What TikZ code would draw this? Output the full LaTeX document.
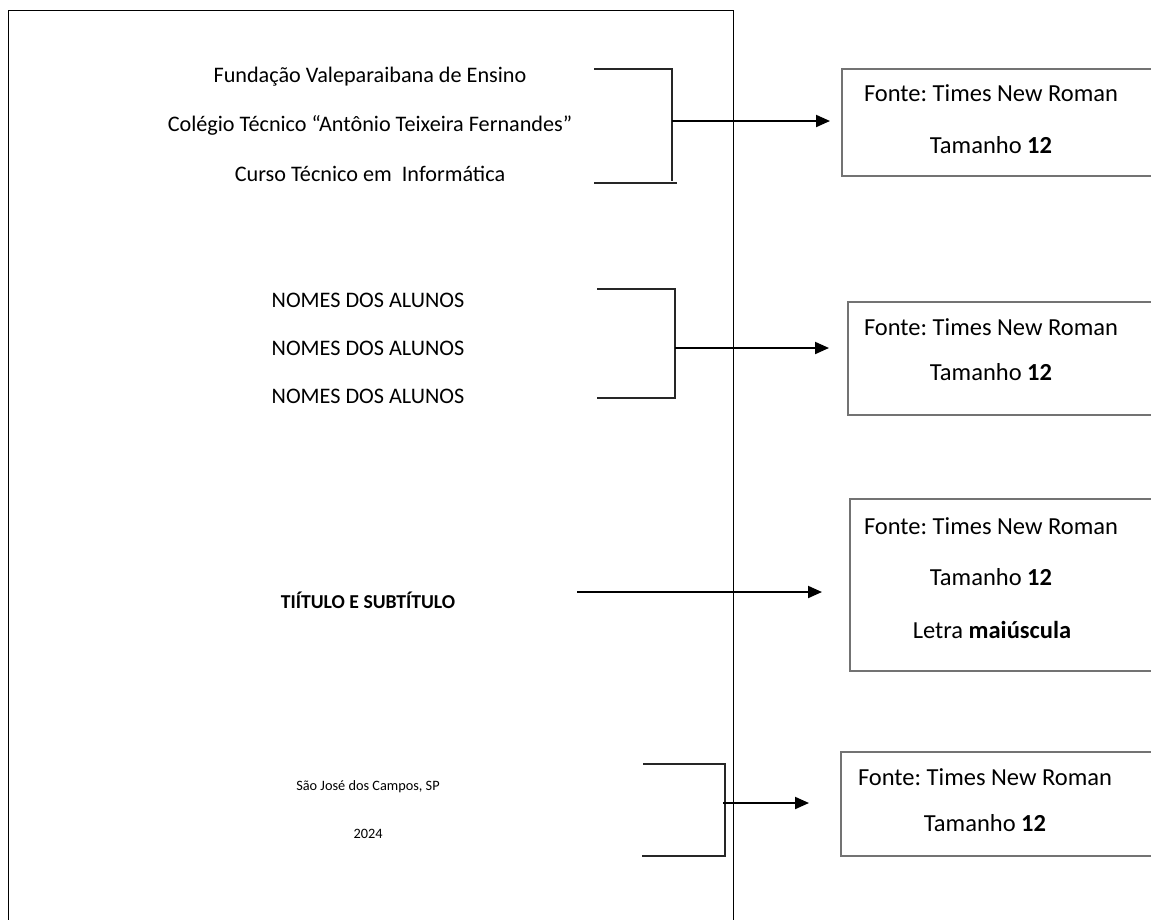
\documentclass[tikz,border=0pt]{standalone}
\usepackage{fontspec}
\setmainfont{Carlito}
\usetikzlibrary{arrows.meta}
\frenchspacing
\begin{document}
\begin{tikzpicture}[x=1pt,y=-1pt,
  pg/.style={line width=1pt,black},
  brk/.style={line width=2pt,black!85},
  conn/.style={line width=2pt,-{Triangle[length=14pt,width=12pt]}},
  bx/.style={line width=1.2pt,black!55},
  mtxt/.style={font=\fontsize{22.2}{26}\selectfont,inner sep=0pt},
  stxt/.style={font=\fontsize{14.3}{17}\selectfont,inner sep=0pt},
  btxt/.style={font=\fontsize{24.5}{29}\selectfont,inner sep=0pt}]
\useasboundingbox (0,0) rectangle (1151,919);
% page
\draw[pg] (8,925) -- (8,10) -- (733,10) -- (733,925);
% left texts
\node[mtxt] (t1) at (370,77) {Fundação Valeparaibana de Ensino};
\node[mtxt] (t2) at (370,125) {Colégio Técnico “Antônio Teixeira Fernandes”};
\node[mtxt] (t3) at (370,174) {Curso Técnico em \ Informática};
\node[mtxt] (n1) at (368,300) {NOMES DOS ALUNOS};
\node[mtxt] (n2) at (368,348) {NOMES DOS ALUNOS};
\node[mtxt] (n3) at (368,396) {NOMES DOS ALUNOS};
\node[inner sep=0pt,font=\fontsize{19.7}{24}\selectfont\bfseries] (ti) at (368,600) {TIÍTULO E SUBTÍTULO};
\node[stxt] (c1) at (368,787) {São José dos Campos, SP};
\node[stxt] (c2) at (368,834) {2024};
% brackets
\coordinate (b1a) at (594,69); \coordinate (b1b) at (672,69);
\coordinate (b1c) at (672,181); \coordinate (b1d) at (594,183); \coordinate (b1e) at (677,183);
\draw[brk] (b1a) -- (b1b) -- (b1c);
\draw[brk] (b1d) -- (b1e);
\coordinate (b1m) at (672,121);
\coordinate (b2a) at (597,289); \coordinate (b2b) at (675,289);
\coordinate (b2c) at (675,398); \coordinate (b2d) at (597,398);
\draw[brk] (b2a) -- (b2b) -- (b2c) -- (b2d);
\coordinate (b2m) at (675,348);
\coordinate (b3m) at (577,592);
\coordinate (b4a) at (643,764); \coordinate (b4b) at (725,764);
\coordinate (b4c) at (725,856); \coordinate (b4d) at (642,856);
\draw[brk] (b4a) -- (b4b) -- (b4c) -- (b4d);
\coordinate (b4m) at (723,803);
% boxes
\node[anchor=north west,minimum width=320pt,minimum height=107pt] (f1) at (842,69) {};
\node[btxt] at (991,93) {Fonte: Times New Roman};
\node[btxt] at (991,145) {Tamanho \textbf{12}};
\draw[bx] (1160,69) -| (f1.west) |- (1160,176);
\node[anchor=north west,minimum width=320pt,minimum height=113pt] (f2) at (848,302) {};
\node[btxt] at (991,327) {Fonte: Times New Roman};
\node[btxt] at (991,372) {Tamanho \textbf{12}};
\draw[bx] (1160,302) -| (f2.west) |- (1160,415);
\node[anchor=north west,minimum width=320pt,minimum height=172pt] (f3) at (850,499) {};
\node[btxt] at (991,526) {Fonte: Times New Roman};
\node[btxt] at (991,577) {Tamanho \textbf{12}};
\node[btxt] at (992,630) {Letra \textbf{maiúscula}};
\draw[bx] (1160,499) -| (f3.west) |- (1160,671);
\node[anchor=north west,minimum width=320pt,minimum height=104pt] (f4) at (841,752) {};
\node[btxt] at (985,777) {Fonte: Times New Roman};
\node[btxt] at (985,823) {Tamanho \textbf{12}};
\draw[bx] (1160,752) -| (f4.west) |- (1160,856);
% arrows
\draw[conn] (b1m) -- ([xshift=-12pt]f1.west |- b1m);
\draw[conn] (b2m) -- ([xshift=-19pt]f2.west |- b2m);
\draw[conn] (b3m) -- ([xshift=-28pt]f3.west |- b3m);
\draw[conn] (b4m) -- ([xshift=-32pt]f4.west |- b4m);
\end{tikzpicture}
\end{document}
